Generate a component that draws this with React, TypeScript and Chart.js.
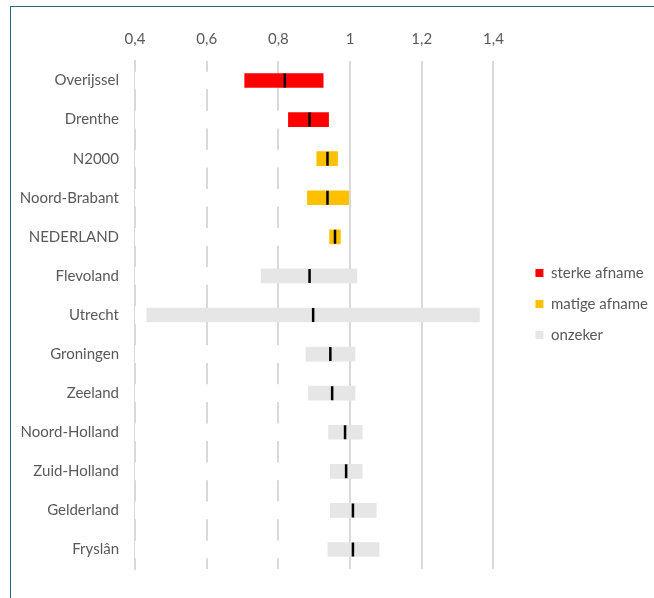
import React, { useEffect, useRef } from 'react';
import Chart from 'chart.js/auto';

// regions, top to bottom
const regions = [
  'Overijssel', 'Drenthe', 'N2000', 'Noord-Brabant', 'NEDERLAND', 'Flevoland', 'Utrecht',
  'Groningen', 'Zeeland', 'Noord-Holland', 'Zuid-Holland', 'Gelderland', 'Fryslân',
];
// lower / upper bound of the interval and the point estimate
const lowValues = [0.706, 0.828, 0.907, 0.881, 0.943, 0.752, 0.433, 0.877, 0.884, 0.940, 0.945, 0.945, 0.938];
const highValues = [0.925, 0.940, 0.965, 0.996, 0.973, 1.019, 1.361, 1.014, 1.014, 1.034, 1.034, 1.073, 1.081];
const medianValues = [0.818, 0.887, 0.937, 0.937, 0.958, 0.887, 0.897, 0.945, 0.950, 0.986, 0.989, 1.008, 1.008];
// trend class per region
const trendClass = [0, 0, 1, 1, 1, 2, 2, 2, 2, 2, 2, 2, 2];
const classLabels = ['sterke afname', 'matige afname', 'onzeker'];
const classColors = ['#FF0000', '#FFC000', '#E7E6E6'];
const axisMin = 0.4;
const axisMax = 1.4;

const TEXT = '#595959';
const GRID = '#D9D9D9';
const LEGEND_GAP = 26;

// leaves some white space between the plot and the legend
const legendGap = {
  id: 'legendGap',
  beforeLayout(chart: any) {
    const lg = chart.legend;
    if (lg && !lg._gapPatched) {
      const fit = lg.fit.bind(lg);
      lg.fit = () => {
        fit();
        lg.width += LEGEND_GAP;
      };
      lg._gapPatched = true;
    }
  },
  afterLayout(chart: any) {
    const lg = chart.legend;
    if (lg) lg.left += LEGEND_GAP;
  },
};

const App: React.FC = () => {
  const canvasRef = useRef<HTMLCanvasElement>(null);

  useEffect(() => {
    if (!canvasRef.current) return;
    const ctx = canvasRef.current.getContext('2d');
    if (!ctx) return;

    Chart.defaults.font.family = 'Lato, "Open Sans", sans-serif';
    Chart.defaults.font.size = 15;
    Chart.defaults.color = TEXT;

    const classSets = classLabels.map((label, c) => ({
      type: 'bar' as const,
      label,
      data: regions.map((_, i) => (trendClass[i] === c ? [lowValues[i], highValues[i]] : null)),
      backgroundColor: classColors[c],
      borderWidth: 0,
      barThickness: 14,
      grouped: false,
      order: 1,
      inLegend: true,
    }));

    const chart = new Chart(ctx, {
      type: 'bar',
      data: {
        labels: regions,
        datasets: [
          {
            type: 'scatter' as const,
            label: 'schatting',
            data: regions.map((r, i) => ({ x: medianValues[i], y: r })),
            pointStyle: 'line',
            rotation: 90,
            pointRadius: 7,
            pointHoverRadius: 7,
            borderColor: '#000000',
            backgroundColor: '#000000',
            borderWidth: 2.5,
            pointBorderWidth: 2.5,
            order: 0,
          } as any,
          ...classSets,
          {
            // invisible base of the bars (covers the grid like the original)
            type: 'bar' as const,
            label: 'basis',
            data: regions.map((_, i) => [axisMin, lowValues[i]]),
            backgroundColor: '#FFFFFF',
            borderWidth: 0,
            barThickness: 17,
            grouped: false,
            order: 2,
          },
        ],
      },
      options: {
        indexAxis: 'y',
        animation: false,
        responsive: true,
        maintainAspectRatio: false,
        layout: { padding: { top: 0, right: -4, bottom: 29, left: 0 } },
        plugins: {
          tooltip: { enabled: false },
          legend: {
            position: 'right',
            align: 'center',
            title: { display: true, text: '', padding: 0, font: { lineHeight: '39px' } },
            labels: {
              boxWidth: 8,
              boxHeight: 8,
              padding: 16,
              color: TEXT,
              font: { size: 15 },
              filter: (item, data) => !!(data.datasets[item.datasetIndex as number] as any).inLegend,
            },
          },
        },
        scales: {
          x: {
            type: 'linear',
            position: 'top',
            min: axisMin,
            max: axisMax,
            ticks: {
              stepSize: 0.2,
              padding: 13,
              color: TEXT,
              callback: (v) => String(Math.round(Number(v) * 10) / 10).replace('.', ','),
            },
            grid: { color: GRID, lineWidth: 2, drawTicks: false },
            border: { display: false },
            afterFit: (s) => {
              s.height = 61;
            },
          },
          y: {
            type: 'category',
            z: 1,
            ticks: { padding: 16, color: TEXT },
            grid: { display: false, drawTicks: false },
            border: { display: true, color: GRID, width: 2 },
            afterFit: (s) => {
              s.width = 135;
            },
          },
        },
      },
      plugins: [legendGap],
    });

    return () => {
      chart.destroy();
    };
  }, []);

  return (
    <>
      <div style={{ position: 'fixed', left: 0, top: 0, width: 654, height: 598 }}>
        <canvas ref={canvasRef}></canvas>
      </div>
      <div
        style={{
          position: 'fixed',
          left: 10,
          top: 6,
          width: 644,
          height: 592,
          boxSizing: 'border-box',
          borderTop: '1.5px solid #1F6B7B',
          borderLeft: '1.5px solid #1F6B7B',
          pointerEvents: 'none',
        }}
      />
    </>
  );
};

export default App;
